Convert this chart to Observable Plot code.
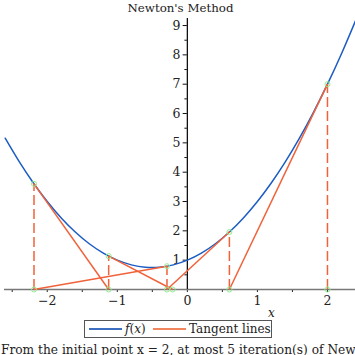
<!DOCTYPE html>
<html><head><meta charset="utf-8">
<script src="https://cdn.jsdelivr.net/npm/d3@7"></script>
<script src="https://cdn.jsdelivr.net/npm/@observablehq/plot@0.6"></script>
<style>
body{margin:0;background:#fff;}
#wrap{position:relative;width:355px;height:355px;overflow:hidden;font-family:"DejaVu Serif",serif;color:#222;}
#title{position:absolute;left:3px;width:355px;top:0;text-align:center;font-size:11.8px;line-height:16px;}
#chart{position:absolute;left:0;top:0;}
#xlab{position:absolute;left:268px;top:306px;font-size:12px;font-style:italic;}
#legend{position:absolute;left:84px;top:320px;width:186px;height:16px;border:1.5px solid #555;font-size:12px;}
#legend .sw{position:absolute;top:7px;height:2px;width:33px;}
#legend .lb{position:absolute;top:0px;line-height:16px;white-space:nowrap;}
#caption{position:absolute;left:1px;top:343px;font-size:12.2px;white-space:nowrap;}
</style></head>
<body><div id="wrap">
<div id="chart"></div>
<div id="title">Newton's Method</div>
<div id="xlab">x</div>
<div id="legend">
 <div class="sw" style="left:4px;background:#3d6fc1"></div><div class="lb" style="left:40px"><i>f</i>(<i>x</i>)</div>
 <div class="sw" style="left:68px;background:#f0855e"></div><div class="lb" style="left:104px">Tangent lines</div>
</div>
<div id="caption">From the initial point x = 2, at most 5 iteration(s) of Newton's method produces an approximation</div>
</div>
<script>
// f(x) curve
const curveX = [-2.6,-2.4,-2.2,-2.0,-1.8,-1.6,-1.4,-1.2,-1.0,-0.8,-0.6,-0.4,-0.2,0.0,0.2,0.4,0.6,0.8,1.0,1.2,1.4,1.6,1.8,2.0,2.2,2.41];
const curveY = [5.16,4.36,3.64,3.0,2.44,1.96,1.56,1.24,1.0,0.84,0.76,0.76,0.84,1.0,1.24,1.56,1.96,2.44,3.0,3.64,4.36,5.16,6.04,7.0,8.04,9.22];
// Newton iterates
const iterX = [2, 0.6, -0.291, -2.189, -1.123, -0.210];
const iterY = [7, 1.96, 0.794, 3.602, 1.138];
// tick values
const xMajor = [-2,-1,0,1,2];
const xMinor = [-2.5,-1.5,-0.5,0.5,1.5];
const yMajor = [1,2,3,4,5,6,7,8,9];
const yMinor = [0.5,1.5,2.5,3.5,4.5,5.5,6.5,7.5,8.5];

const curve = curveX.map((x,i)=>({x, y: curveY[i]}));
const verts = iterY.map((y,i)=>({x: iterX[i], y}));
const tangents = iterY.map((y,i)=>({x1: iterX[i], y1: y, x2: iterX[i+1], y2: 0}));
const pts = [...verts, ...iterX.map(x=>({x, y:0}))];

const blue = "#1b5cc4", orange = "#f0623a", green = "#90ee90";
const fmt = d => d < 0 ? "\u2212" + Math.abs(d) : String(d);

const plot = Plot.plot({
  width: 355, height: 312,
  marginLeft: 4, marginRight: 0, marginTop: 18, marginBottom: 23,
  x: {domain: [-2.61, 2.40]},
  y: {domain: [0, 9.24], axis: null},
  style: {fontFamily: "DejaVu Serif, serif", fontSize: "12.5px", color: "#222", background: "transparent"},
  marks: [
    Plot.axisX(xMinor, {tickSize: 3, tickFormat: () => "", stroke: "#222"}),
    Plot.axisX(xMajor, {tickSize: 3, tickPadding: 4, tickFormat: fmt, fontSize: 12.5, stroke: "#222"}),
    Plot.ruleY([0], {stroke: "#777", strokeWidth: 1.6}),
    Plot.ruleX([0], {y1: 0, y2: 9.24, stroke: "#111", strokeWidth: 1.3}),
    Plot.ruleY(yMajor, {x1: -0.06, x2: 0, stroke: "#111"}),
    Plot.ruleY(yMinor, {x1: -0.035, x2: 0, stroke: "#111"}),
    Plot.text(yMajor, {x: 0, y: d=>d, text: d=>String(d), dx: -7, textAnchor: "end", fontSize: 12.5, fill: "#222"}),
    Plot.line(curve, {x: "x", y: "y", stroke: blue, strokeWidth: 1.5, curve: "catmull-rom", clip: true}),
    Plot.ruleX(verts, {x: "x", y1: 0, y2: "y", stroke: orange, strokeWidth: 1.5, strokeDasharray: "10,4"}),
    Plot.link(tangents, {x1: "x1", y1: "y1", x2: "x2", y2: "y2", stroke: orange, strokeWidth: 1.5}),
    Plot.dot(pts, {x: "x", y: "y", r: 2.5, stroke: green, strokeWidth: 1, fill: "none"})
  ]
});
document.getElementById("chart").appendChild(plot);
</script>
</body></html>
